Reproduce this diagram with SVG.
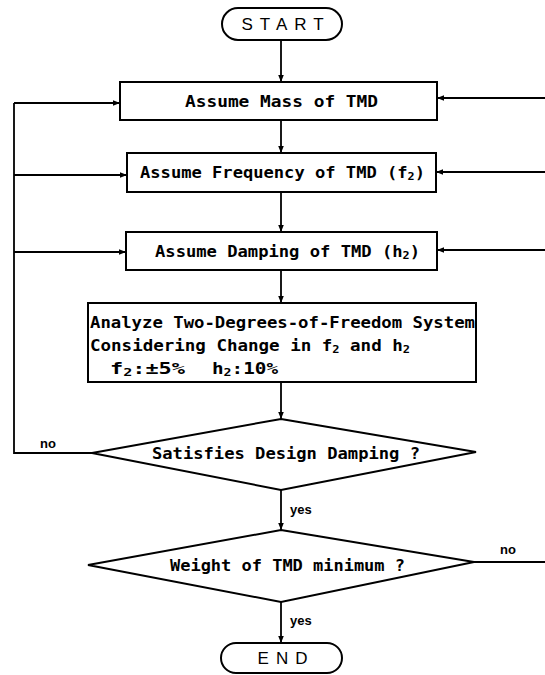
<svg xmlns="http://www.w3.org/2000/svg" width="545" height="675" viewBox="0 0 545 675">
<defs>
<marker id="ah" viewBox="0 0 10 10" refX="10" refY="5" markerWidth="7" markerHeight="7" orient="auto" markerUnits="userSpaceOnUse">
<path d="M0,1 L10,5 L0,9 Z" fill="#000"/>
</marker>
<style>
.shape{fill:#fff;stroke:#000;stroke-width:2}
.line{fill:none;stroke:#000;stroke-width:1.8}
.t{font-family:"DejaVu Sans Mono","Liberation Mono",monospace;font-weight:bold;font-size:16px;fill:#000}
.term{font-family:"Liberation Sans",Arial,sans-serif;font-size:17px;fill:#000;letter-spacing:7px}
.lbl{font-family:"Liberation Sans",Arial,sans-serif;font-weight:bold;font-size:13px;fill:#000}
.sub{font-size:11px}
</style>
</defs>
<rect width="545" height="675" fill="#fff"/>
<g id="connectors">
<line class="line" x1="281" y1="40" x2="281" y2="82" marker-end="url(#ah)"/>
<line class="line" x1="281" y1="120" x2="281" y2="153" marker-end="url(#ah)"/>
<line class="line" x1="281" y1="192" x2="281" y2="232" marker-end="url(#ah)"/>
<line class="line" x1="281" y1="270" x2="281" y2="303" marker-end="url(#ah)"/>
<line class="line" x1="281" y1="382" x2="281" y2="419" marker-end="url(#ah)"/>
<line class="line" x1="281" y1="490" x2="281" y2="530" marker-end="url(#ah)"/>
<line class="line" x1="281" y1="602" x2="281" y2="643" marker-end="url(#ah)"/>
<polyline class="line" points="92,453 14,453 14,103"/>
<line class="line" x1="14" y1="103" x2="120" y2="103" marker-end="url(#ah)"/>
<line class="line" x1="14" y1="175" x2="127" y2="175" marker-end="url(#ah)"/>
<line class="line" x1="14" y1="252" x2="126" y2="252" marker-end="url(#ah)"/>
<line class="line" x1="545" y1="98" x2="437" y2="98" marker-end="url(#ah)"/>
<line class="line" x1="545" y1="172" x2="436" y2="172" marker-end="url(#ah)"/>
<line class="line" x1="545" y1="250" x2="437" y2="250" marker-end="url(#ah)"/>
<line class="line" x1="474" y1="562" x2="545" y2="562"/>
</g>
<g id="start">
<rect class="shape" x="222" y="8" width="120" height="32" rx="16"/>
<text class="term" x="286" y="30" text-anchor="middle">START</text>
</g>
<g id="mass">
<rect class="shape" x="120" y="82" width="317" height="38"/>
<text class="t" x="185" y="107" textLength="193" lengthAdjust="spacingAndGlyphs">Assume Mass of TMD</text>
</g>
<g id="freq">
<rect class="shape" x="127" y="153" width="309" height="39"/>
<text class="t" x="140" y="178" textLength="285" lengthAdjust="spacingAndGlyphs">Assume Frequency of TMD (f<tspan class="sub" dy="2">2</tspan><tspan dy="-2">)</tspan></text>
</g>
<g id="damp">
<rect class="shape" x="126" y="232" width="311" height="38"/>
<text class="t" x="155" y="257" textLength="265" lengthAdjust="spacingAndGlyphs">Assume Damping of TMD (h<tspan class="sub" dy="2">2</tspan><tspan dy="-2">)</tspan></text>
</g>
<g id="analyze">
<rect class="shape" x="88" y="303" width="388" height="79"/>
<text class="t" x="90" y="328" textLength="385" lengthAdjust="spacingAndGlyphs">Analyze Two-Degrees-of-Freedom System</text>
<text class="t" x="90" y="351" textLength="320" lengthAdjust="spacingAndGlyphs">Considering Change in f<tspan class="sub" dy="2">2</tspan><tspan dy="-2"> and h</tspan><tspan class="sub" dy="2">2</tspan></text>
<text class="t" x="110" y="374" textLength="75" lengthAdjust="spacingAndGlyphs">f<tspan class="sub" dy="2">2</tspan><tspan dy="-2">:±5%</tspan></text>
<text class="t" x="212" y="374" textLength="66" lengthAdjust="spacingAndGlyphs">h<tspan class="sub" dy="2">2</tspan><tspan dy="-2">:10%</tspan></text>
</g>
<g id="satisfies">
<polygon class="shape" points="281,419 476,452 281,490 92,453"/>
<text class="t" x="152" y="459" textLength="268" lengthAdjust="spacingAndGlyphs">Satisfies Design Damping ?</text>
</g>
<g id="weight">
<polygon class="shape" points="281,530 474,562 281,602 88,565"/>
<text class="t" x="170" y="571" textLength="235" lengthAdjust="spacingAndGlyphs">Weight of TMD minimum ?</text>
</g>
<g id="end">
<rect class="shape" x="221" y="643" width="121" height="30" rx="15"/>
<text class="term" x="286" y="664" text-anchor="middle">END</text>
</g>
<g id="labels">
<text class="lbl" x="40" y="448">no</text>
<text class="lbl" x="290" y="514">yes</text>
<text class="lbl" x="500" y="554">no</text>
<text class="lbl" x="290" y="625">yes</text>
</g>
</svg>
